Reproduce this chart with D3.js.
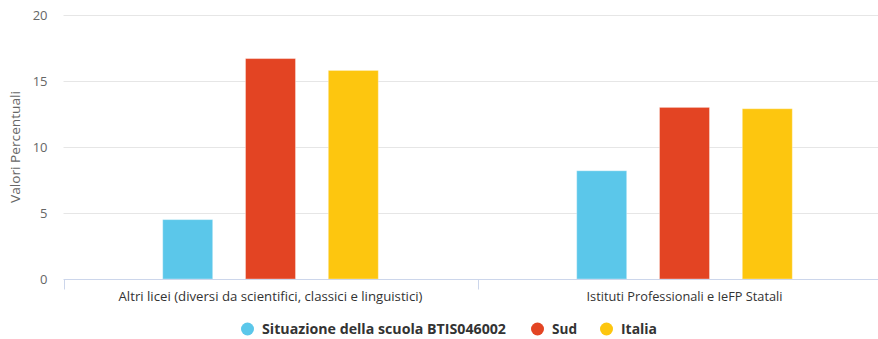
<!DOCTYPE html>
<html><head><meta charset="utf-8">
<script src="https://cdn.jsdelivr.net/npm/d3@7"></script>
<style>
html,body{margin:0;padding:0;background:#fff;overflow:hidden;}
svg{display:block;font-family:"Open Sans","Noto Sans",sans-serif;}
</style></head>
<body><svg id="c" width="878" height="339"></svg>
<script>
const categories = ["Altri licei (diversi da scientifici, classici e linguistici)", "Istituti Professionali e IeFP Statali"];
const seriesNames = ["Situazione della scuola BTIS046002", "Sud", "Italia"];
const seriesColors = ["#5BC7EA", "#E34423", "#FDC60F"];
const scuola = [4.5, 8.2];
const sud = [16.7, 13.0];
const italia = [15.8, 12.9];
const yTicks = [0, 5, 10, 15, 20];
const yTitle = "Valori Percentuali";

const values = [scuola, sud, italia];
const svg = d3.select("#c");
const pL = 63.5, pR = 891.5, pT = 15, pB = 279;

const x0 = d3.scaleBand().domain(categories).range([pL, pR]).padding(0);
const bw = x0.bandwidth();
const x1 = d3.scaleBand().domain(seriesNames).range([bw * 0.2, bw * 0.8]).padding(0);
const y = d3.scaleLinear().domain([0, 20]).range([pB, pT]);

// grid
const grid = svg.append("g");
grid.selectAll("line").data(yTicks.filter(d => d > 0)).join("line")
  .attr("x1", pL).attr("x2", pR)
  .attr("y1", d => Math.round(y(d)) + 0.5).attr("y2", d => Math.round(y(d)) + 0.5)
  .attr("stroke", "#e6e6e6").attr("stroke-width", 1);

// y tick labels
const yAx = d3.axisLeft(y).tickValues(yTicks).tickSize(0).tickPadding(0);
const gy = svg.append("g").attr("transform", `translate(${pL - 16},0)`).call(yAx);
gy.select(".domain").remove();
gy.selectAll("text").attr("fill", "#666").attr("font-size", 13).attr("font-family", "Open Sans, sans-serif").attr("dy", "0.32em");

// y title
svg.append("text").attr("transform", `translate(20,${(pT + pB) / 2}) rotate(-90)`)
  .attr("text-anchor", "middle").attr("fill", "#666").attr("font-size", 13)
  .attr("textLength", 112).attr("lengthAdjust", "spacingAndGlyphs")
  .text(yTitle);

// bars
const w = Math.min(50, x1.bandwidth() * 0.8);
categories.forEach((c, i) => {
  seriesNames.forEach((s, j) => {
    const cx = x0(c) + x1(s) + x1.bandwidth() / 2;
    svg.append("rect")
      .attr("x", cx - w / 2).attr("width", w)
      .attr("y", y(values[j][i])).attr("height", y(0) - y(values[j][i]))
      .attr("fill", seriesColors[j]).attr("stroke", "#fff").attr("stroke-opacity", 0.35).attr("stroke-width", 1);
  });
});

// x axis
const gx = svg.append("g").attr("transform", `translate(0,${pB + 0.5})`);
gx.append("line").attr("x1", pL).attr("x2", pR).attr("stroke", "#ccd6eb");
[pL, pL + bw, pR].forEach(t => {
  gx.append("line").attr("x1", Math.round(t) + 0.5).attr("x2", Math.round(t) + 0.5).attr("y1", 0).attr("y2", 10).attr("stroke", "#ccd6eb");
});
const labW = [304, 196];
categories.forEach((c, i) => {
  svg.append("text").attr("x", x0(c) + bw / 2).attr("y", 300.5)
    .attr("text-anchor", "middle").attr("fill", "#333").attr("font-size", 12.5)
    .attr("textLength", labW[i]).attr("lengthAdjust", "spacingAndGlyphs")
    .text(c);
});

// legend
const leg = [
  {cx: 247.5, tx: 262, tw: 244},
  {cx: 537.5, tx: 552, tw: 25},
  {cx: 606.5, tx: 621, tw: 36}
];
seriesNames.forEach((s, j) => {
  svg.append("circle").attr("cx", leg[j].cx).attr("cy", 329).attr("r", 6.5).attr("fill", seriesColors[j]);
  svg.append("text").attr("x", leg[j].tx).attr("y", 334).attr("fill", "#333")
    .attr("font-size", 13.5).attr("font-weight", "bold")
    .attr("textLength", leg[j].tw).attr("lengthAdjust", "spacingAndGlyphs")
    .text(s);
});
</script></body></html>
